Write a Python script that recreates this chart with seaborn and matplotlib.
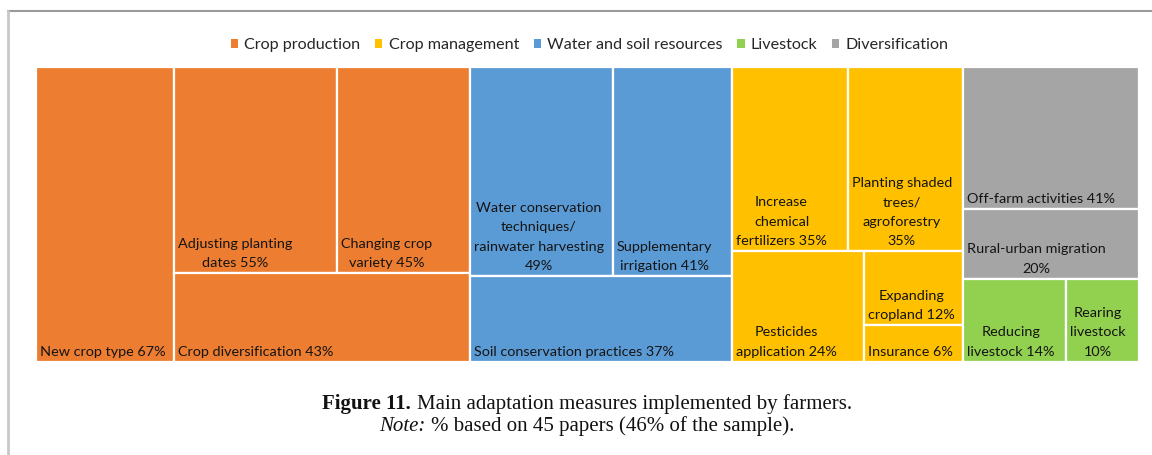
import matplotlib
matplotlib.use("Agg")
import matplotlib.pyplot as plt
import seaborn as sns
from matplotlib.patches import Rectangle, Patch
from matplotlib.lines import Line2D
from matplotlib.offsetbox import TextArea, HPacker, VPacker, AnchoredOffsetbox

# categories in legend order
categories = ["Crop production", "Crop management", "Water and soil resources",
              "Livestock", "Diversification"]
category_colors = ["#ED7D31", "#FFC000", "#5B9BD5", "#92D050", "#A5A5A5"]

# measures per category (% of 45 papers); "\n" marks label wraps
crop_production_names = ["New crop type", "Adjusting planting\ndates",
                         "Changing crop\nvariety", "Crop diversification"]
crop_production_values = [67, 55, 45, 43]

crop_management_names = ["Increase\nchemical\nfertilizers", "Planting shaded\ntrees/\nagroforestry\n",
                         "Pesticides\napplication", "Expanding\ncropland", "Insurance"]
crop_management_values = [35, 35, 24, 12, 6]

water_soil_names = ["Water conservation\ntechniques/\nrainwater harvesting\n",
                    "Supplementary\nirrigation", "Soil conservation practices"]
water_soil_values = [49, 41, 37]

livestock_names = ["Reducing\nlivestock", "Rearing\nlivestock\n"]
livestock_values = [14, 10]

diversification_names = ["Off-farm activities", "Rural-urban migration\n"]
diversification_values = [41, 20]

group_names = [crop_production_names, crop_management_names, water_soil_names,
               livestock_names, diversification_names]
group_values = [crop_production_values, crop_management_values, water_soil_values,
                livestock_values, diversification_values]


def worst(areas, side):
    thick = sum(areas) / side
    return max(max(thick / (a / thick), (a / thick) / thick) for a in areas)


def squarify(values, x, y, w, h):
    # squarified layout, Excel-ish: only grow a row if it clearly helps
    areas = [v * w * h / sum(values) for v in values]
    rects = []
    i = 0
    while i < len(areas):
        vertical = w > h * 1.02
        side = h if vertical else w
        row = [areas[i]]
        while i + len(row) < len(areas):
            cand = row + [areas[i + len(row)]]
            if worst(cand, side) < 0.85 * worst(row, side):
                row = cand
            else:
                break
        thick = sum(row) / side
        pos = y if vertical else x
        for a in row:
            length = a / thick
            if vertical:
                rects.append((x, pos, thick, length))
            else:
                rects.append((pos, y, length, thick))
            pos += length
        if vertical:
            x += thick
            w -= thick
        else:
            y += thick
            h -= thick
        i += len(row)
    return rects


sns.set_theme(style="white")
plt.rcParams["font.family"] = ["Lato", "DejaVu Sans"]

fig = plt.figure(figsize=(11.52, 4.55), dpi=100)
ax = fig.add_axes([36 / 1152, 1 - 362 / 455, 1103 / 1152, 295 / 455])
W, H = 1103, 295
ax.set_xlim(0, W)
ax.set_ylim(H, 0)
ax.axis("off")

palette = sns.color_palette(category_colors)
order = sorted(range(len(categories)), key=lambda k: -sum(group_values[k]))
totals = [sum(group_values[k]) for k in order]
group_rects = squarify(totals, 0, 0, W, H)

for k, (gx, gy, gw, gh) in zip(order, group_rects):
    for name, val, (x, y, w, h) in zip(group_names[k], group_values[k],
                                       squarify(group_values[k], gx, gy, gw, gh)):
        ax.add_patch(Rectangle((x, y), w, h, facecolor=palette[k],
                               edgecolor="white", linewidth=1.6))
        sep = "" if name.endswith("\n") else " "
        ax.text(x + 4, y + h - 4, f"{name}{sep}{val}%", ha="left", va="bottom",
                multialignment="center", fontsize=10.4, color="#141414",
                linespacing=1.75)

handles = [Patch(facecolor=c, edgecolor="none") for c in palette]
fig.legend(handles, categories, loc="center", bbox_to_anchor=(0.512, 1 - 45 / 455),
           ncol=5, frameon=False, handlelength=0.45, handleheight=0.45,
           handletextpad=0.4, columnspacing=0.9, fontsize=11.6, labelcolor="#262626")

# caption
serif = ["Liberation Serif", "DejaVu Serif"]
cap = dict(family=serif, size=15, color="#111111")
line1 = HPacker(children=[
    TextArea("Figure 11.", textprops=dict(cap, weight="bold")),
    TextArea("Main adaptation measures implemented by farmers.", textprops=cap)],
    sep=4, align="baseline")
line2 = HPacker(children=[
    TextArea("Note:", textprops=dict(cap, style="italic")),
    TextArea("% based on 45 papers (46% of the sample).", textprops=cap)],
    sep=4, align="baseline")
caption = VPacker(children=[line1, line2], align="center", sep=1)
fig.add_artist(AnchoredOffsetbox(loc="center", child=caption, frameon=False, pad=0,
                                 bbox_to_anchor=(587 / 1152, 1 - 415 / 455),
                                 bbox_transform=fig.transFigure))

# frame edges from the page
fig.add_artist(Line2D([8 / 1152, 1], [1 - 11 / 455] * 2, transform=fig.transFigure,
                      color="#9a9a9a", linewidth=1.5))
fig.add_artist(Line2D([8 / 1152] * 2, [0, 1 - 11 / 455], transform=fig.transFigure,
                      color="#c8c8c8", linewidth=2))

fig.savefig("out.png", dpi=100)
